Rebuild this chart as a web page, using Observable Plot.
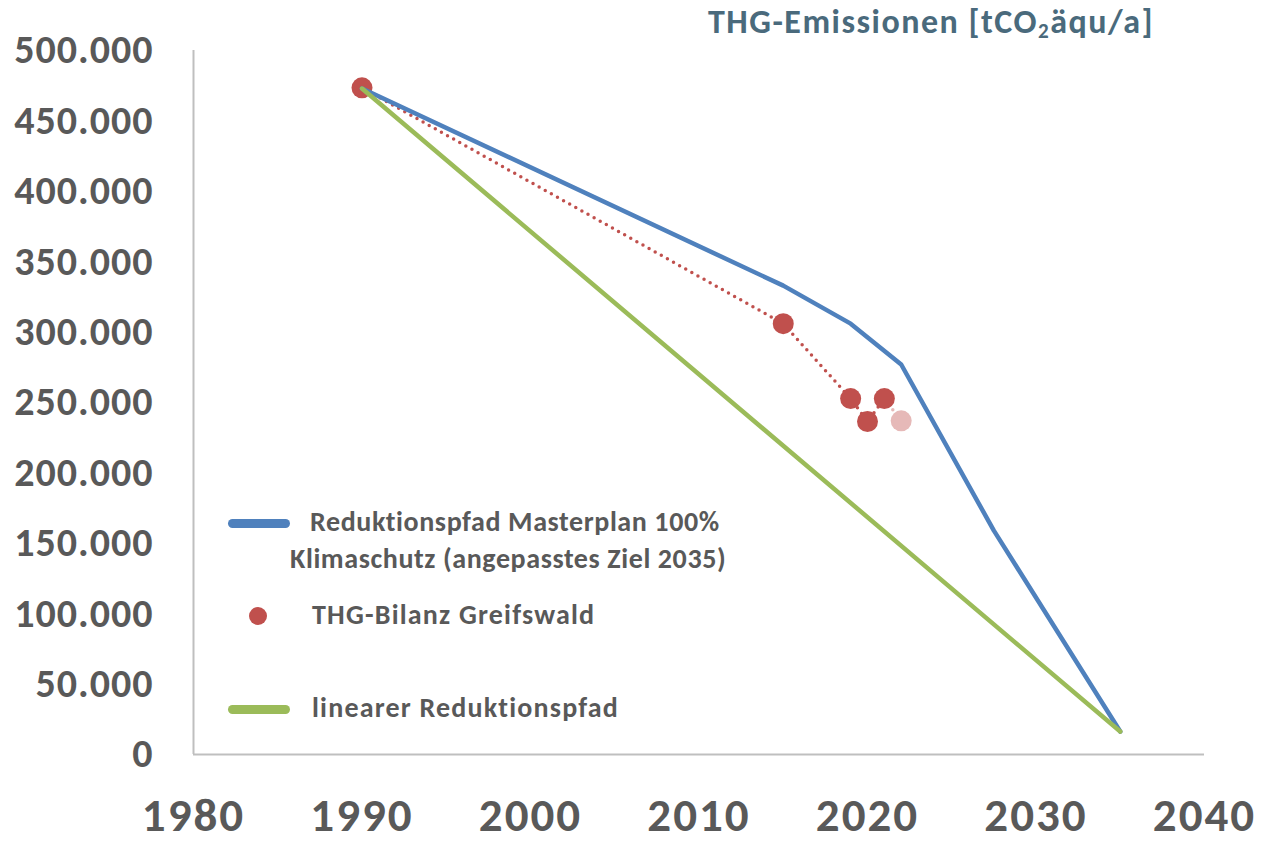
<!DOCTYPE html>
<html>
<head>
<meta charset="utf-8">
<script src="https://cdn.jsdelivr.net/npm/d3@7"></script>
<script src="https://cdn.jsdelivr.net/npm/@observablehq/plot@0.6"></script>
<style>
  html, body { margin: 0; padding: 0; background: #fff; }
  body { font-family: Carlito, Calibri, Lato, "Open Sans", sans-serif; }
  #wrap { position: relative; width: 1261px; height: 844px; overflow: hidden; }
  #title { position: absolute; left: 708px; top: 1px; font-size: 34px; font-weight: bold; color: #4A6A7C; white-space: nowrap; letter-spacing: 1.5px; }
  #title sub { font-size: 0.62em; vertical-align: -0.25em; }
  .leg { position: absolute; font-size: 28px; font-weight: bold; color: #595959; white-space: nowrap; line-height: 37px; letter-spacing: 0.6px; }
  .sw { position: absolute; height: 9px; border-radius: 5px; width: 62px; }
  .dot { position: absolute; width: 18px; height: 18px; border-radius: 50%; background: #C0504D; }
</style>
</head>
<body>
<div id="wrap">
  <div id="chart"></div>
  <div id="title">THG-Emissionen [tCO<sub>2</sub>äqu/a]</div>
  <div class="sw" style="left:228px; top:519px; background:#4F81BD;"></div>
  <div class="leg" style="left:310px; top:503px;">Reduktionspfad Masterplan 100%</div>
  <div class="leg" style="left:290px; top:540px;">Klimaschutz (angepasstes Ziel 2035)</div>
  <div class="dot" style="left:249px; top:607px;"></div>
  <div class="leg" style="left:312px; top:596px; letter-spacing:1.2px;">THG-Bilanz Greifswald</div>
  <div class="sw" style="left:228px; top:705px; background:#9BBB59;"></div>
  <div class="leg" style="left:312px; top:689px; letter-spacing:1.2px;">linearer Reduktionspfad</div>
</div>
<script>
// Reduktionspfad Masterplan 100% Klimaschutz (angepasstes Ziel 2035)
const masterYears = [1990, 2015, 2019, 2022, 2027.5, 2035];
const masterValues = [473000, 333000, 306000, 277000, 159000, 16300];

// THG-Bilanz Greifswald
const bilanzYears = [1990, 2015, 2019, 2020, 2021, 2022];
const bilanzValues = [473500, 306000, 252800, 236500, 252800, 237000];
const bilanzPreliminary = [false, false, false, false, false, true];

// linearer Reduktionspfad
const linearYears = [1990, 2035];
const linearValues = [473000, 16300];

const xTicks = [1980, 1990, 2000, 2010, 2020, 2030, 2040];
const yTicks = [0, 50000, 100000, 150000, 200000, 250000, 300000, 350000, 400000, 450000, 500000];

const master = masterYears.map((x, i) => ({x, y: masterValues[i]}));
const bilanz = bilanzYears.map((x, i) => ({x, y: bilanzValues[i], pre: bilanzPreliminary[i]}));
const linear = linearYears.map((x, i) => ({x, y: linearValues[i]}));
const bilanzFinal = bilanz.filter(d => !d.pre);
const bilanzLastSeg = bilanz.slice(-2);

const de = d3.formatLocale({decimal: ",", thousands: ".", grouping: [3], currency: ["", " €"]});
const fmt = de.format(",d");

const plot = Plot.plot({
  width: 1261,
  height: 844,
  marginLeft: 193,
  marginRight: 57,
  marginTop: 50,
  marginBottom: 90,
  x: {domain: [1980, 2040]},
  y: {domain: [0, 500000]},
  style: {fontFamily: "Carlito, Calibri, Lato, 'Open Sans', sans-serif", background: "#fff"},
  marks: [
    Plot.axisY({ticks: yTicks, tickSize: 0, tickPadding: 40, tickFormat: fmt, fontSize: 40, fontWeight: "bold", fill: "#595959", label: null}),
    Plot.axisX({ticks: xTicks, tickSize: 0, tickPadding: 43, tickFormat: d => String(d), fontSize: 47, fontWeight: "bold", fill: "#595959", label: null}),
    Plot.ruleX([1980], {stroke: "#BFBFBF", strokeWidth: 2}),
    Plot.ruleY([0], {stroke: "#BFBFBF", strokeWidth: 2}),
    Plot.line(bilanzFinal, {x: "x", y: "y", stroke: "#C0504D", strokeWidth: 3.5, strokeDasharray: "0 7", strokeLinecap: "round"}),
    Plot.line(bilanzLastSeg, {x: "x", y: "y", stroke: "#E6B9B8", strokeWidth: 3.5, strokeDasharray: "0 7", strokeLinecap: "round"}),
    Plot.dot(bilanz, {x: "x", y: "y", r: 10.5, fill: d => d.pre ? "#E6B9B8" : "#C0504D", stroke: "none"}),
    Plot.line(master, {x: "x", y: "y", stroke: "#4F81BD", strokeWidth: 4.5}),
    Plot.line(linear, {x: "x", y: "y", stroke: "#9BBB59", strokeWidth: 4.5})
  ]
});
d3.select(plot).selectAll("g[aria-label='y-axis tick label'] text").style("letter-spacing", "1px");
d3.select(plot).selectAll("g[aria-label='x-axis tick label'] text").style("letter-spacing", "2px");
document.getElementById("chart").appendChild(plot);
</script>
</body>
</html>
